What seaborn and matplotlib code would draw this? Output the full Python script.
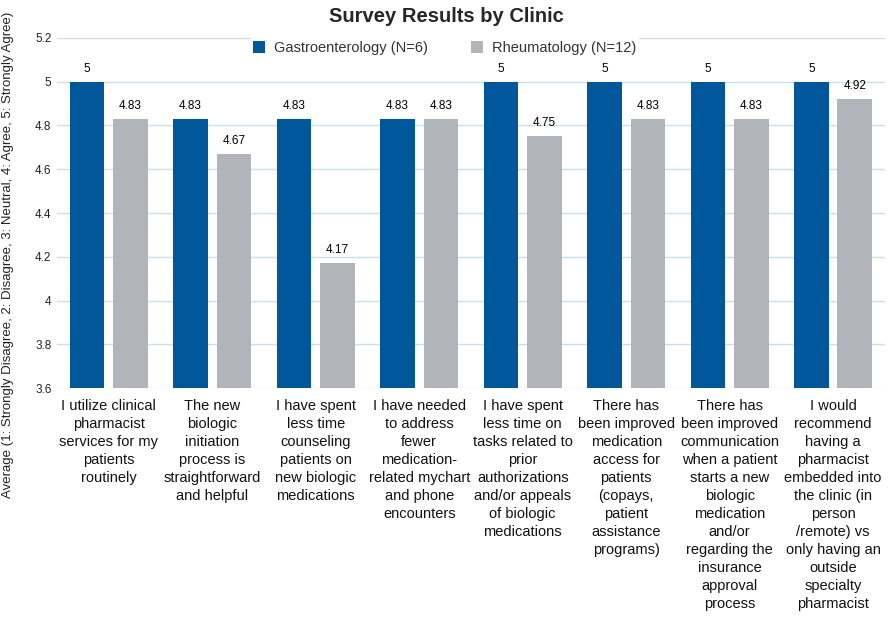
import pandas as pd
import seaborn as sns
import matplotlib.pyplot as plt

questions = [
    "I utilize clinical\npharmacist\nservices for my\npatients\nroutinely",
    "The new\nbiologic\ninitiation\nprocess is\nstraightforward\nand helpful",
    "I have spent\nless time\ncounseling\npatients on\nnew biologic\nmedications",
    "I have needed\nto address\nfewer\nmedication-\nrelated mychart\nand phone\nencounters",
    "I have spent\nless time on\ntasks related to\nprior\nauthorizations\nand/or appeals\nof biologic\nmedications",
    "There has\nbeen improved\nmedication\naccess for\npatients\n(copays,\npatient\nassistance\nprograms)",
    "There has\nbeen improved\ncommunication\nwhen a patient\nstarts a new\nbiologic\nmedication\nand/or\nregarding the\ninsurance\napproval\nprocess",
    "I would\nrecommend\nhaving a\npharmacist\nembedded into\nthe clinic (in\nperson\n/remote) vs\nonly having an\noutside\nspecialty\npharmacist",
]
gastro = [5, 4.83, 4.83, 4.83, 5, 5, 5, 5]
rheum = [4.83, 4.67, 4.17, 4.83, 4.75, 4.83, 4.83, 4.92]
clinics = ["Gastroenterology (N=6)", "Rheumatology (N=12)"]
yticks = [3.6, 3.8, 4, 4.2, 4.4, 4.6, 4.8, 5, 5.2]

df = pd.DataFrame({
    "question": questions * 2,
    "clinic": [clinics[0]] * len(gastro) + [clinics[1]] * len(rheum),
    "score": gastro + rheum,
})

sns.set_style("white")
plt.rcParams['font.family'] = ['Liberation Sans', 'DejaVu Sans']

fig = plt.figure(figsize=(8.92, 6.21), dpi=100)
ax = fig.add_axes([0.064, 0.375, 0.928, 0.564])

sns.barplot(data=df, x="question", y="score", hue="clinic",
            palette=["#00589A", "#B2B4BC"], saturation=1, width=0.84, gap=0.2,
            linewidth=0, ax=ax, errorbar=None)

for cont in ax.containers:
    ax.bar_label(cont, labels=["%g" % v for v in cont.datavalues],
                 padding=5, fontsize=8.5, color="black")

ax.set_ylim(3.6, 5.2)
ax.set_yticks(yticks)
ax.set_yticklabels(["%g" % t for t in yticks], fontsize=8.5, color="#222222")
ax.tick_params(axis="x", labelsize=10.5, length=0, pad=8, colors="#111111")
ax.tick_params(axis="y", length=0, pad=4)
for t in ax.get_xticklabels():
    t.set_linespacing(1.36)
    t.set_verticalalignment("top")
ax.grid(axis="y", color="#C9DFEE", linewidth=1)
ax.set_axisbelow(True)
sns.despine(ax=ax, left=True, top=True, right=True, bottom=True)

ax.set_xlabel("")
ax.set_ylabel("Average (1: Strongly Disagree, 2: Disagree, 3: Neutral, 4: Agree, 5: Strongly Agree)",
              fontsize=9.5, color="#222222")
ax.yaxis.set_label_coords(-0.052, 0.38)

fig.suptitle("Survey Results by Clinic", fontsize=14.5, fontweight="bold", y=0.988)

leg = ax.legend(loc="center", bbox_to_anchor=(0.468, 0.971), ncol=2,
                frameon=True, fontsize=10.5, handlelength=0.8, handleheight=0.8,
                columnspacing=3, borderpad=0.2, handletextpad=0.6)
leg.get_frame().set_edgecolor("white")
leg.get_frame().set_facecolor("white")
leg.get_frame().set_alpha(1)
for t in leg.get_texts():
    t.set_color("#333333")

fig.savefig("out.png", dpi=100)
